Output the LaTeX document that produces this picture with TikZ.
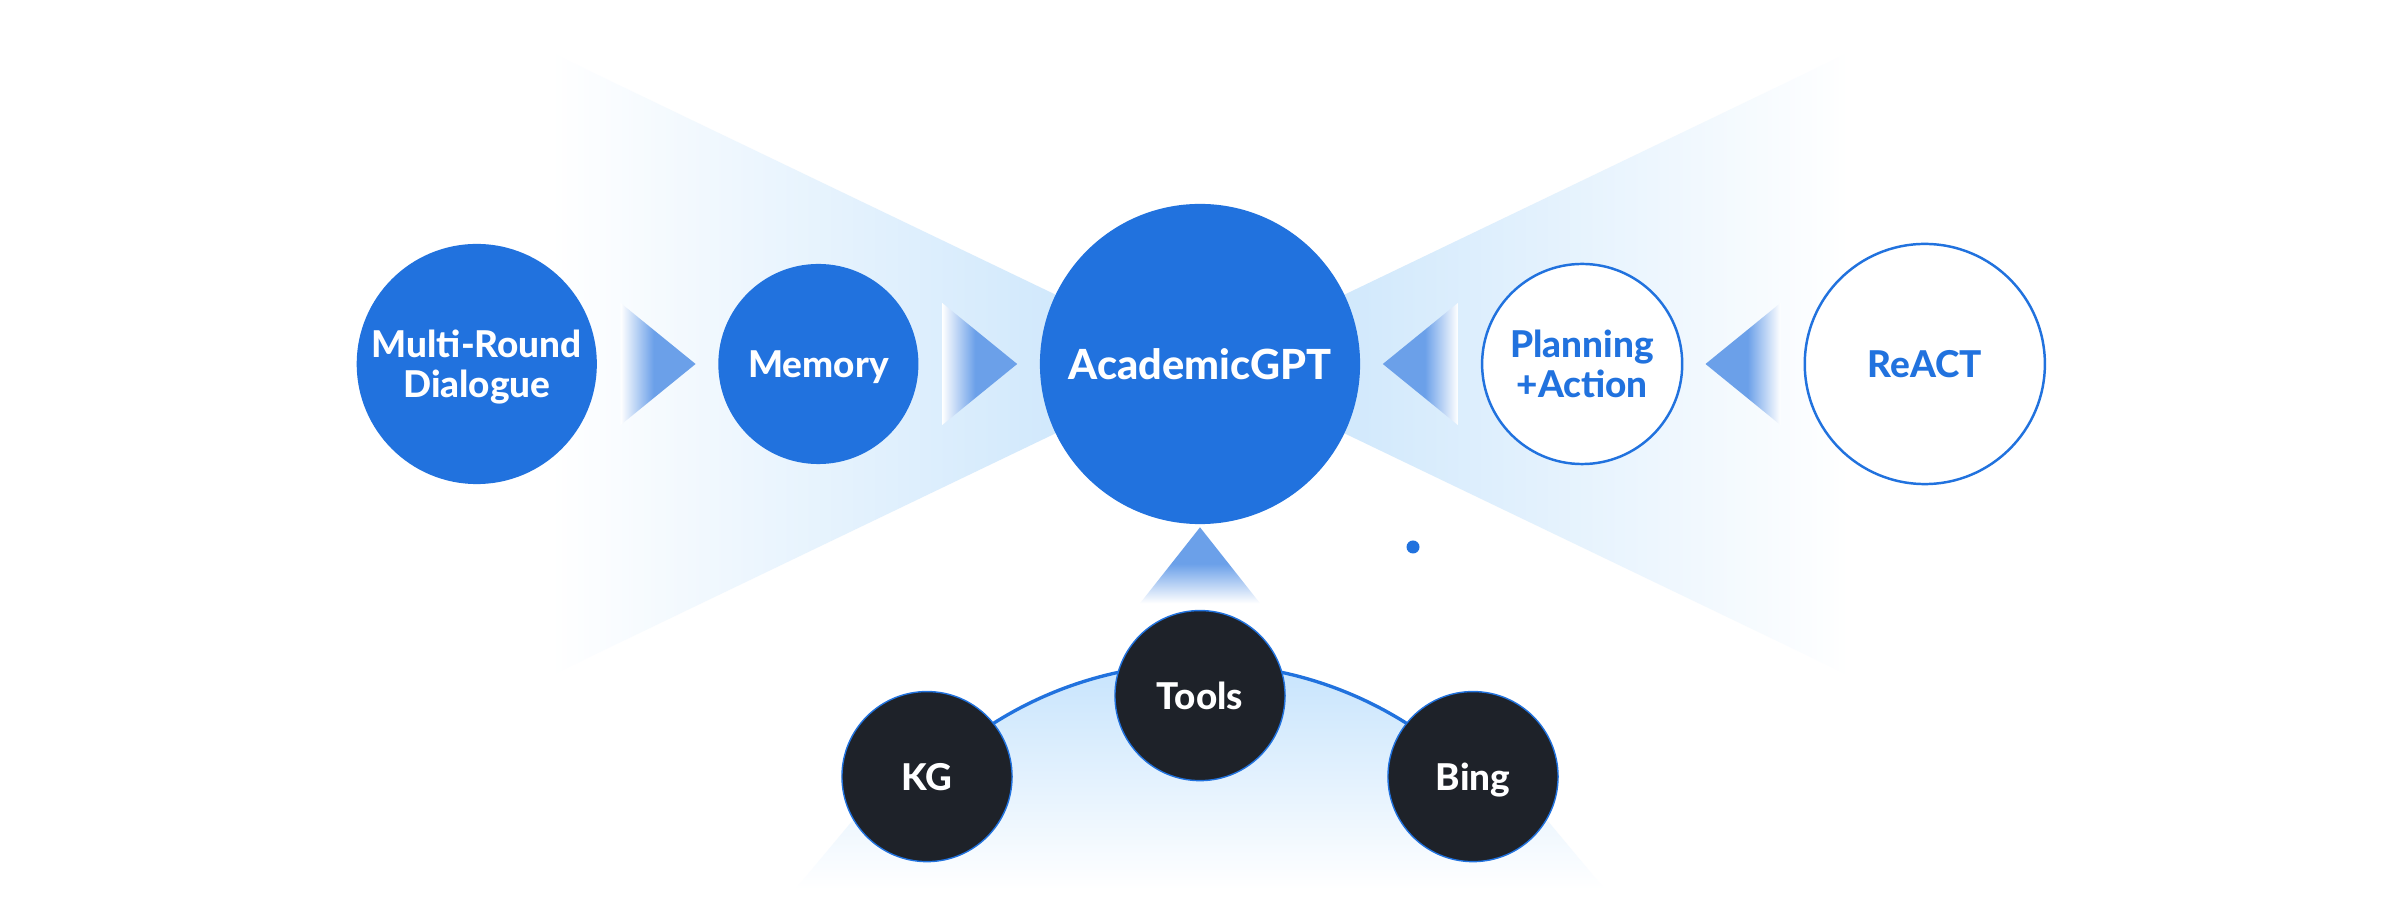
\documentclass[tikz,border=0pt]{standalone}
\usepackage{fontspec}
\setmainfont{Lato}[BoldFont={Lato Heavy}]
\usetikzlibrary{
  positioning,
  calc,
  backgrounds
}
\definecolor{agBlue}{HTML}{2172DE}
\definecolor{agTip}{HTML}{6BA0E9}
\definecolor{agCone}{HTML}{C4E2FB}
\definecolor{agArc}{HTML}{BDDFFC}
\definecolor{agDark}{HTML}{1E2229}
\pgfdeclarehorizontalshading{tipfade}{100bp}{color(0bp)=(white); color(25bp)=(white); color(47bp)=(agTip); color(100bp)=(agTip)}
\pgfdeclareverticalshading{stemfade}{100bp}{color(0bp)=(white); color(25bp)=(white); color(51bp)=(agTip); color(100bp)=(agTip)}

\begin{document}
\begin{tikzpicture}[
  x=0.01cm, y=0.01cm,
  every node/.style={font=\bfseries\fontsize{10.5}{11.4}\selectfont, align=center, text depth=0pt},
  bluecirc/.style={
    circle, fill=agBlue, text=white, inner sep=0pt
  },
  linecirc/.style={
    circle, draw=agBlue, line width=0.7pt, fill=white, text=agBlue, inner sep=0pt
  },
  toolcirc/.style={
    circle, fill=agDark, draw=agBlue, line width=0.4pt, text=white,
    inner sep=0pt, minimum size=1.7cm
  },
  fadetip/.style={shading=tipfade},
  arcline/.style={agBlue, line width=0.95pt}
]
 \useasboundingbox (0,0) rectangle (2400,900);

 % Top row -- core in the middle, two on each side
 \node[bluecirc, minimum size=3.2cm, font=\bfseries\fontsize{11.8}{13}\selectfont] (acad) at (1200,536) {AcademicGPT};
 \node[bluecirc, minimum size=2cm, left=1.2cm of acad]  (mem) {Memory};
 \node[bluecirc, minimum size=2.4cm, left=1.2cm of mem]  (multi) {Multi-Round\\Dialogue};
 \node[linecirc, minimum size=2cm, right=1.2cm of acad]  (plan) {Planning\\+Action};
 \node[linecirc, minimum size=2.4cm, right=1.2cm of plan] (react) {ReACT};

 % Bottom row -- tools on an arc
 \node[toolcirc, below=0.85cm of acad] (tools) {Tools};
 \node[toolcirc] (kg)  at ($(tools)+(-273,-81)$) {KG};
 \node[toolcirc] (bing) at ($(tools)+(273,-81)$) {Bing};
 \node[circle, fill=agBlue, inner sep=0pt, minimum size=0.13cm] (dot) at (1413,353) {};

 \begin{pgfonlayer}{background}
  \fill[white] (0,0) rectangle (2400,900);

  % light cones into the core
  \shade[left color=white, right color=agCone] (acad.center) -- ++(-650,312) -- ++(0,-624) -- cycle;
  \shade[left color=agCone, right color=white] (acad.center) -- ++(650,312) -- ++(0,-624) -- cycle;

  % fading tips between the circles
  \coordinate (t1) at ($(multi.east)!0.5!(mem.west)$);
  \coordinate (t2) at ($(mem.east)!0.5!(acad.west)$);
  \coordinate (t3) at ($(acad.east)!0.5!(plan.west)$);
  \coordinate (t4) at ($(plan.east)!0.5!(react.west)$);
  \shade[fadetip] (t1) +(-37,61) -- +(38,0) -- +(-37,-61) -- cycle;
  \shade[fadetip] (t2) +(-37,61) -- +(38,0) -- +(-37,-61) -- cycle;
  \shade[fadetip, shading angle=180] (t3) +(37,61) -- +(-38,0) -- +(37,-61) -- cycle;
  \shade[fadetip, shading angle=180] (t4) +(37,61) -- +(-38,0) -- +(37,-61) -- cycle;

  % tools up to the core
  \shade[shading=stemfade] ($(tools.north)!0.5!(acad.south)$) +(0,40) -- +(60,-36) -- +(-60,-36) -- cycle;

  % arc behind the tools
  \shade[top color=agArc, bottom color=white] ($(kg)+(-132,-113)$) -- ($(kg)+(-67,-35)$) -- (kg.center)
    to[bend left=45] (bing.center) -- ($(bing)+(67,-35)$) -- ($(bing)+(132,-113)$) -- cycle;
  \draw[arcline] (kg.center) to[bend left=45] (bing.center);
 \end{pgfonlayer}
\end{tikzpicture}
\end{document}
